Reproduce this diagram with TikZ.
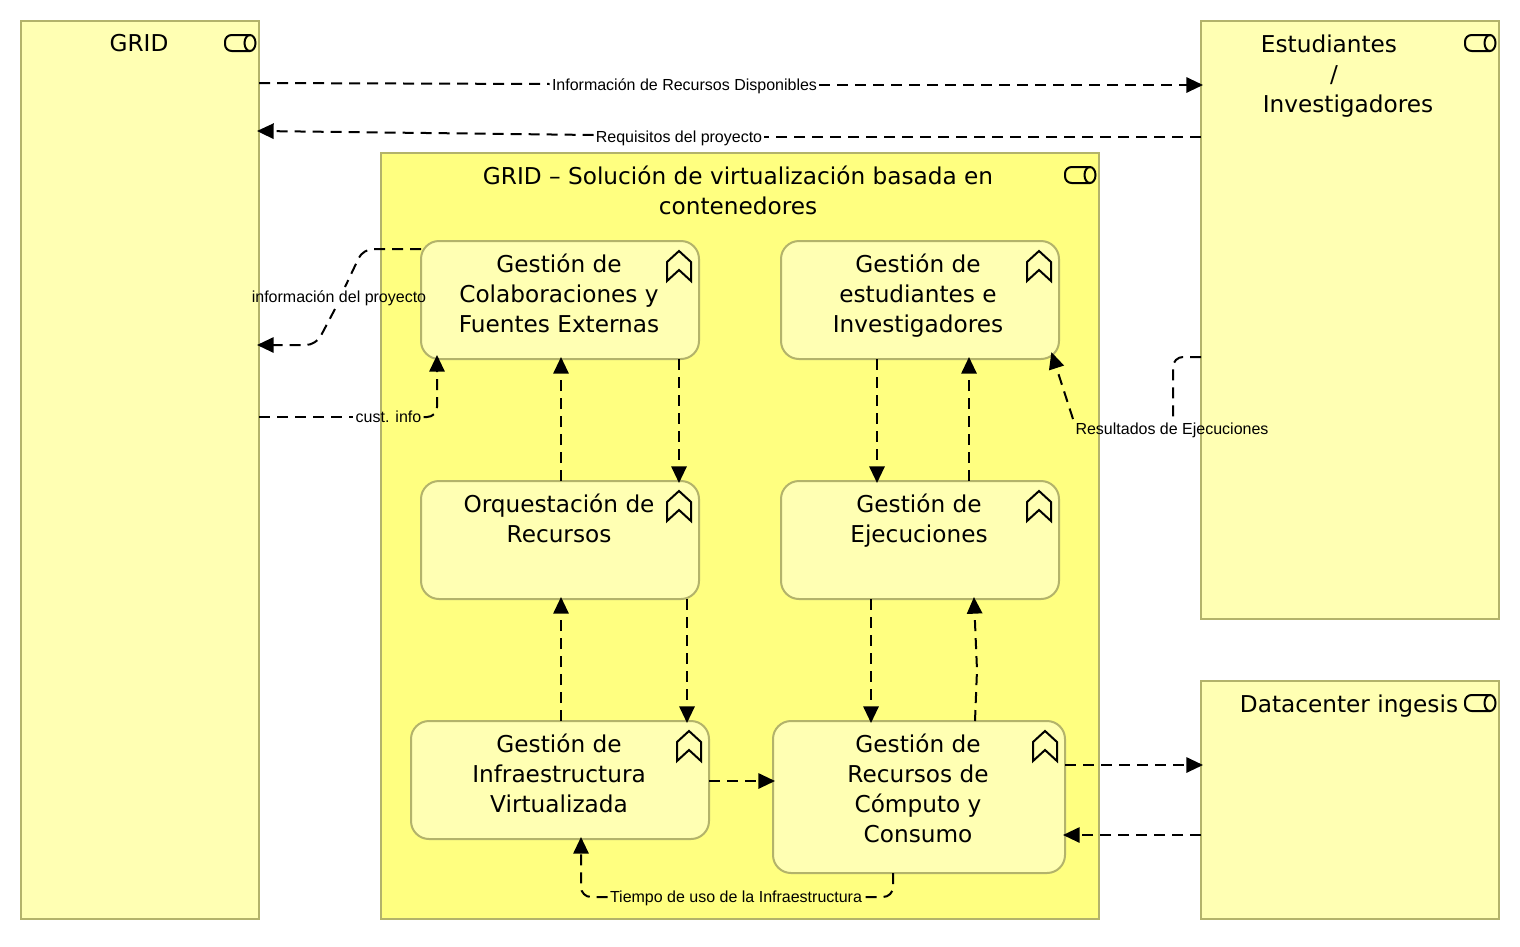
\documentclass[tikz,border=0pt]{standalone}
\usepackage{fontspec}
\setmainfont{DejaVu Sans}
\newfontfamily\lblfont{Liberation Sans}
\usetikzlibrary{arrows.meta}
\definecolor{lightfill}{HTML}{FFFFB3}
\definecolor{mainfill}{HTML}{FFFF80}
\definecolor{edgecol}{HTML}{B3B36B}
\tikzset{
  sz/.style 2 args={minimum width=#1*0.75pt,minimum height=#2*0.75pt},
  sqbox/.style={draw=edgecol,line width=1.5pt,fill=lightfill,inner sep=0pt,outer sep=0pt},
  mainbox/.style={sqbox,fill=mainfill},
  rbox/.style={sqbox,rounded corners=13.5pt},
  ttl/.style={inner sep=0pt,align=center,font=\fontsize{17.4}{22.5}\selectfont,text=black},
  lbl/.style={inner sep=1.5pt,font=\lblfont\fontsize{12}{14}\selectfont,text=black},
  conn/.style={draw=black,line width=1.5pt,dash pattern=on 8.25pt off 5.25pt,rounded corners=7.5pt},
  arr/.style={conn,shorten >=-1.5pt,-{Triangle[length=12.5pt,width=11.5pt]}},
  cyl/.pic={
    \draw[black,line width=1.5pt,rounded corners=5pt] (10,-8)--(-15,-8)--(-15,8)--(10,8);
    \draw[black,line width=1.5pt] (10,0) ellipse [x radius=5.5,y radius=8];
  },
  chev/.pic={
    \draw[black,line width=1.5pt,miter limit=10] (-12,11)--(0,0)--(12,11)--(12,30)--(0,19)--(-12,30)--cycle;
  }
}
\begin{document}
\begin{tikzpicture}[x=0.75pt,y=-0.75pt]
\useasboundingbox (0,0) rectangle (1520,946);
% containers
\node[sqbox,sz={238}{898}] (grid) at (140,470) {};
\node[sqbox,sz={298}{598}] (stud) at (1350,320) {};
\node[sqbox,sz={298}{238}] (data) at (1350,800) {};
\node[mainbox,sz={718}{766}] (main) at (740,536) {};
% inner boxes
\node[rbox,sz={278}{118}] (colab) at (560,300) {};
\node[rbox,sz={278}{118}] (gest) at (920,300) {};
\node[rbox,sz={278}{118}] (orq) at (560,540) {};
\node[rbox,sz={278}{118}] (ejec) at (920,540) {};
\node[rbox,sz={298}{118}] (infra) at (560,780) {};
\node[rbox,sz={292}{152}] (recu) at (919,797) {};
% titles
\node[ttl] (tgrid) at (139,43.5) {GRID};
\node[ttl] (tstud) at (1348,76) {\hspace*{-28.5pt}Estudiantes\\\hspace*{-21pt}/\\Investigadores};
\node[ttl] (tdata) at (1349,706) {Datacenter ingesis};
\node[ttl] (tmain) at (738,190) {GRID – Solución de virtualización basada en\\contenedores};
\node[ttl] (tcolab) at (559,293) {Gestión de\\Colaboraciones y\\Fuentes Externas};
\node[ttl] (tgest) at (918,296) {Gestión de\\estudiantes e\\Investigadores};
\node[ttl] (torq) at (559,518) {Orquestación de\\Recursos};
\node[ttl] (tejec) at (919,521) {Gestión de\\Ejecuciones};
\node[ttl] (tinfra) at (559,773) {Gestión de\\Infraestructura\\Virtualizada};
\node[ttl] (trecu) at (918,788) {Gestión de\\Recursos de\\Cómputo y\\Consumo};
% icons
\pic at (240,43) {cyl};
\pic at (1480,43) {cyl};
\pic at (1480,703) {cyl};
\pic at (1080,175) {cyl};
\pic at (679,251) {chev};
\pic at (1039,251) {chev};
\pic at (679,491) {chev};
\pic at (1039,491) {chev};
\pic at (689,731) {chev};
\pic at (1045,731) {chev};
% labels
\node[lbl] (l1) at (684.5,86) {Información de Recursos Disponibles};
\node[lbl] (l2) at (679,138) {Requisitos del proyecto};
\node[lbl] (l3) at (339,298) {información del proyecto};
\node[lbl] (l4) at (388.5,417) {cust. info};
\node[lbl] (l5) at (1172,430) {Resultados de Ejecuciones};
\node[lbl] (l6) at (736,898) {Tiempo de uso de la Infraestructura};
% helper points
\coordinate (c3a) at (345,287);
\coordinate (c3b) at (335,309);
\coordinate (c5) at (1073,419);
\coordinate (c5b) at (1173,418);
% connectors
\draw[conn] (grid.east |- 0,83) -- (l1.west |- 0,84);
\draw[arr] (l1.east |- 0,85) -- (stud.west |- 0,85);
\draw[conn] (stud.west |- 0,137) -- (l2.east |- 0,137);
\draw[arr] (l2.west |- 0,135) -- (grid.east |- 0,131);
\draw[conn] (colab.west |- 0,249) -- (363,249) -- (c3a);
\draw[arr] (c3b) -- (316,345) -- (grid.east |- 0,345);
\draw[conn] (grid.east |- 0,417) -- (l4.west);
\draw[arr] (l4.east) -- (437,417) -- (437,357);
\draw[arr] (561,0 |- orq.north) -- (561,0 |- colab.south);
\draw[arr] (679,0 |- colab.south) -- (679,0 |- orq.north);
\draw[arr] (877,0 |- gest.south) -- (877,0 |- ejec.north);
\draw[arr] (969,0 |- ejec.north) -- (969,0 |- gest.south);
\draw[arr] (561,0 |- infra.north) -- (561,0 |- orq.south);
\draw[arr] (687,0 |- orq.south) -- (687,0 |- infra.north);
\draw[arr] (871,0 |- ejec.south) -- (871,0 |- recu.north);
\draw[arr,rounded corners=0pt] (975,0 |- recu.north) -- (977,670) -- (974,0 |- ejec.south);
\draw[arr] (infra.east |- 0,781) -- (recu.west |- 0,781);
\draw[arr] (recu.east |- 0,765) -- (data.west |- 0,765);
\draw[arr] (data.west |- 0,835) -- (recu.east |- 0,835);
\draw[conn] (893,0 |- recu.south) -- (893,897) -- (l6.east |- 0,897);
\draw[arr] (l6.west |- 0,897) -- (581,897) -- (581,0 |- infra.south);
\draw[conn] (stud.west |- 0,357) -- (1173,357) -- (c5b);
\draw[arr] (c5) -- (1052,354);
\end{tikzpicture}
\end{document}
